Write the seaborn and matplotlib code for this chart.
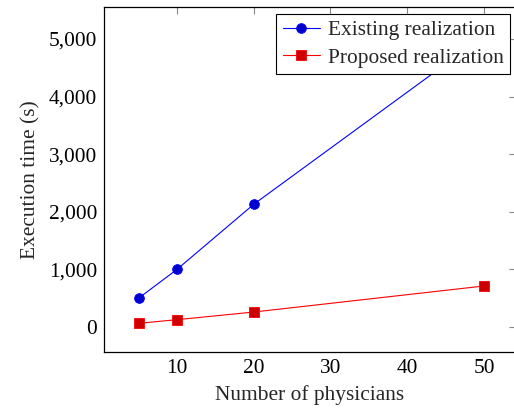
import numpy as np
import pandas as pd
import matplotlib
matplotlib.use("Agg")
import matplotlib.pyplot as plt
import matplotlib.ticker as mticker
import seaborn as sns

# values
physicians = [5, 10, 20, 50]
existing = [500, 1000, 2130, 5050]
proposed = [64, 127, 260, 712]

df = pd.DataFrame({
    "Number of physicians": physicians * 2,
    "Execution time (s)": existing + proposed,
    "Realization": ["Existing realization"] * 4 + ["Proposed realization"] * 4,
})

sns.set_style("white")
plt.rcParams["font.family"] = ["Liberation Serif", "DejaVu Serif"]

fig = plt.figure(figsize=(5.14, 4.09), dpi=100)
# right spine sits just past the image edge, as in the reference
ax = fig.add_axes([104 / 514, 57 / 409, 412 / 514, 345 / 409])

styles = {
    "Existing realization": dict(color="#0000ff", marker="o", mfc="#0000cc", mec="#0000ff"),
    "Proposed realization": dict(color="#ff0000", marker="s", mfc="#cc0000", mec="#ff0000"),
}
for name, st in styles.items():
    sub = df[df["Realization"] == name]
    sns.lineplot(data=sub, x="Number of physicians", y="Execution time (s)", ax=ax,
                 color=st["color"], marker=st["marker"], markersize=7,
                 markerfacecolor=st["mfc"], markeredgecolor=st["mec"],
                 markeredgewidth=0.6, linewidth=0.8, label=name)

ax.set_xlim(0.49, 54.17)
ax.set_ylim(-434, 5555)
ax.set_xticks([10, 20, 30, 40, 50])
ax.set_yticks([0, 1000, 2000, 3000, 4000, 5000])
ax.yaxis.set_major_formatter(mticker.FuncFormatter(lambda v, p: f"{int(v):,}"))
ax.tick_params(direction="in", length=5, width=0.8, color="#888888",
               top=True, right=True, labelsize=15.4, pad=5, labelcolor="black")
for s in ax.spines.values():
    s.set_color("black")
    s.set_linewidth(0.9)

ax.set_xlabel("Number of physicians", fontsize=15.4, labelpad=5)
ax.set_ylabel("Execution time (s)", fontsize=15.4, labelpad=6)

leg = ax.legend(loc="upper right", bbox_to_anchor=(0.9854, 0.9797), fontsize=15.4,
                frameon=True, fancybox=False, edgecolor="black", framealpha=1,
                borderpad=0.3, handlelength=1.75, handletextpad=0.35,
                labelspacing=0.35, borderaxespad=0)
leg.get_frame().set_linewidth(0.8)

fig.savefig("out.png", dpi=100)
